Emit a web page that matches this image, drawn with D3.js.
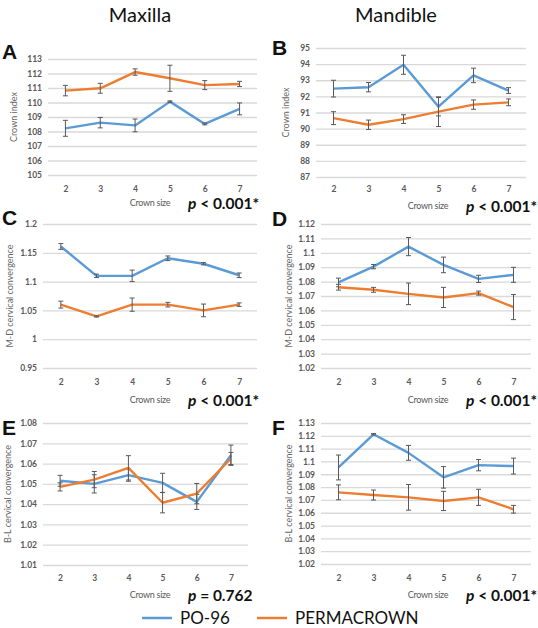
<!DOCTYPE html>
<html>
<head>
<meta charset="utf-8">
<script src="https://cdn.jsdelivr.net/npm/d3@7"></script>
<style>
  body { margin: 0; background: #fff; }
  svg { display: block; font-family: Lato, "Open Sans", sans-serif; }
</style>
</head>
<body>
<div id="chart"></div>
<script>
// crown sizes on the x axis
var crownSizes = [2, 3, 4, 5, 6, 7];
var seriesNames = ["PO-96", "PERMACROWN"];

// A - maxilla crown index
var maxIndexPO = [108.22, 108.61, 108.42, 110.06, 108.52, 109.56];
var maxIndexPOErr = [0.55, 0.36, 0.44, 0.05, 0.06, 0.41];
var maxIndexPerma = [110.82, 110.98, 112.1, 111.67, 111.2, 111.28];
var maxIndexPermaErr = [0.36, 0.34, 0.22, 0.9, 0.31, 0.18];
var maxIndexTicks = [105, 106, 107, 108, 109, 110, 111, 112, 113];

// B - mandible crown index
var manIndexPO = [92.48, 92.57, 93.96, 91.36, 93.3, 92.36];
var manIndexPOErr = [0.52, 0.29, 0.59, 0.57, 0.45, 0.18];
var manIndexPerma = [90.65, 90.24, 90.59, 91.05, 91.49, 91.63];
var manIndexPermaErr = [0.4, 0.29, 0.27, 0.92, 0.29, 0.21];
var manIndexTicks = [87, 88, 89, 90, 91, 92, 93, 94, 95];

// C - maxilla M-D cervical convergence
var maxMdPO = [1.161, 1.110, 1.110, 1.1405, 1.131, 1.111];
var maxMdPOErr = [0.005, 0.003, 0.01, 0.004, 0.002, 0.004];
var maxMdPerma = [1.06, 1.0395, 1.06, 1.06, 1.05, 1.06];
var maxMdPermaErr = [0.006, 0.001, 0.0115, 0.004, 0.011, 0.003];
var maxMdTicks = [0.95, 1, 1.05, 1.1, 1.15, 1.2];

// D - mandible M-D cervical convergence
var manMdPO = [1.0794, 1.0904, 1.1043, 1.0916, 1.0819, 1.0847];
var manMdPOErr = [0.003, 0.0015, 0.0063, 0.0054, 0.0025, 0.0052];
var manMdPerma = [1.0761, 1.0743, 1.0715, 1.069, 1.072, 1.0623];
var manMdPermaErr = [0.002, 0.0017, 0.0075, 0.007, 0.0014, 0.0087];
var manMdTicks = [1.02, 1.03, 1.04, 1.05, 1.06, 1.07, 1.08, 1.09, 1.1, 1.11, 1.12];

// E - maxilla B-L cervical convergence
var maxBlPO = [1.0515, 1.05, 1.0543, 1.0505, 1.0411, 1.0641];
var maxBlPOErr = [0.0027, 0.0045, 0.003, 0.0047, 0.0037, 0.005];
var maxBlPerma = [1.0485, 1.0521, 1.0579, 1.0407, 1.0452, 1.0625];
var maxBlPermaErr = [0.002, 0.004, 0.006, 0.005, 0.005, 0.003];
var maxBlTicks = [1.01, 1.02, 1.03, 1.04, 1.05, 1.06, 1.07, 1.08];

// F - mandible B-L cervical convergence
var manBlPO = [1.0953, 1.1212, 1.1067, 1.0876, 1.0971, 1.0964];
var manBlPOErr = [0.0097, 0.0005, 0.0058, 0.0084, 0.0044, 0.0062];
var manBlPerma = [1.0759, 1.0738, 1.072, 1.0692, 1.072, 1.0627];
var manBlPermaErr = [0.0058, 0.0039, 0.01, 0.0075, 0.0063, 0.003];
var manBlTicks = [1.02, 1.03, 1.04, 1.05, 1.06, 1.07, 1.08, 1.09, 1.1, 1.11, 1.12, 1.13];

var pValues = ["< 0.001*", "< 0.001*", "< 0.001*", "< 0.001*", "= 0.762", "< 0.001*"];

var colors = ["#5b9bd5", "#ed7d31"];

var width = 538, height = 628;

var svg = d3.select("#chart")
  .append("svg")
    .attr("width", width)
    .attr("height", height);

// column headers
svg.append("text").attr("x", 140).attr("y", 22).attr("text-anchor", "middle")
  .style("font-size", "20px").style("fill", "#111").text("Maxilla");
svg.append("text").attr("x", 396).attr("y", 22).attr("text-anchor", "middle")
  .style("font-size", "20px").style("fill", "#111").text("Mandible");

// panel layout: grid box, letter, axis title
var panels = [
  {letter: "A", title: "Crown index", po: maxIndexPO, poErr: maxIndexPOErr, pe: maxIndexPerma, peErr: maxIndexPermaErr,
   ticks: maxIndexTicks, x0: 48, x1: 257, top: 59, bottom: 175, lx: 2, ly: 59, tx: 17, tickY: 192, capY: 203, p: 0},
  {letter: "B", title: "Crown index", po: manIndexPO, poErr: manIndexPOErr, pe: manIndexPerma, peErr: manIndexPermaErr,
   ticks: manIndexTicks, x0: 316, x1: 526, top: 48, bottom: 177, lx: 272, ly: 55, tx: 289, tickY: 192, capY: 206, p: 1},
  {letter: "C", title: "M-D cervical convergence", po: maxMdPO, poErr: maxMdPOErr, pe: maxMdPerma, peErr: maxMdPermaErr,
   ticks: maxMdTicks, x0: 43, x1: 257, top: 224, bottom: 368, lx: 2, ly: 225, tx: 13, tickY: 385, capY: 400, p: 2},
  {letter: "D", title: "M-D cervical convergence", po: manMdPO, poErr: manMdPOErr, pe: manMdPerma, peErr: manMdPermaErr,
   ticks: manMdTicks, x0: 321, x1: 531, top: 224, bottom: 368, lx: 272, ly: 226, tx: 292, tickY: 385, capY: 400, p: 3},
  {letter: "E", title: "B-L cervical convergence", po: maxBlPO, poErr: maxBlPOErr, pe: maxBlPerma, peErr: maxBlPermaErr,
   ticks: maxBlTicks, x0: 43, x1: 248, top: 423, bottom: 565, lx: 2, ly: 435, tx: 11, tickY: 581, capY: 595, p: 4},
  {letter: "F", title: "B-L cervical convergence", po: manBlPO, poErr: manBlPOErr, pe: manBlPerma, peErr: manBlPermaErr,
   ticks: manBlTicks, x0: 321, x1: 531, top: 423, bottom: 564, lx: 272, ly: 435, tx: 292, tickY: 581, capY: 595, p: 5}
];

panels.forEach(function(p) {
  var g = svg.append("g");

  var x = d3.scalePoint()
    .domain(crownSizes)
    .range([p.x0, p.x1])
    .padding(0.5);

  var y = d3.scaleLinear()
    .domain([p.ticks[0], p.ticks[p.ticks.length - 1]])
    .range([p.bottom, p.top]);

  // gridlines + y labels
  g.append("g")
    .attr("transform", "translate(" + p.x0 + ",0)")
    .call(d3.axisLeft(y).tickValues(p.ticks).tickSize(-(p.x1 - p.x0)).tickPadding(6)
      .tickFormat(function(d) { return String(d); }))
    .call(function(a) {
      a.select(".domain").remove();
      a.selectAll("line").style("stroke", "#d9d9d9").style("stroke-width", 1.3);
      a.selectAll("text").style("font-size", "8.5px").style("font-weight", "bold")
        .style("fill", "#595959").style("font-family", "Lato, sans-serif");
    });

  // x labels
  g.append("g")
    .attr("transform", "translate(0," + (p.tickY - 9) + ")")
    .call(d3.axisBottom(x).tickSize(0).tickPadding(3))
    .call(function(a) {
      a.select(".domain").remove();
      a.selectAll("text").style("font-size", "8.5px").style("font-weight", "bold")
        .style("fill", "#595959").style("font-family", "Lato, sans-serif");
    });

  // panel letter
  g.append("text").attr("x", p.lx).attr("y", p.ly)
    .style("font-size", "21px").style("font-weight", "bold").style("fill", "#111")
    .style("font-family", "Liberation Sans, Arial, sans-serif")
    .text(p.letter);

  // y title
  g.append("text")
    .attr("transform", "translate(" + p.tx + "," + ((p.top + p.bottom) / 2) + ") rotate(-90)")
    .attr("text-anchor", "middle")
    .style("font-size", "9px").style("fill", "#666")
    .text(p.title);

  // x title and p value
  var xc = p.x0 < 200 ? 150 : 428;
  g.append("text").attr("x", xc).attr("y", p.capY + 3).attr("text-anchor", "middle")
    .style("font-size", "9px").style("fill", "#595959").style("letter-spacing", "-0.3px")
    .text("Crown size");
  var pt = g.append("text").attr("x", xc + 38).attr("y", p.capY + 6)
    .style("font-size", "15.5px").style("font-weight", "bold").style("fill", "#111")
    .style("font-family", "Lato, sans-serif");
  pt.append("tspan").style("font-style", "italic").text("p");
  pt.append("tspan").text(" " + pValues[p.p]);

  var line = d3.line()
    .x(function(d, i) { return x(crownSizes[i]); })
    .y(function(d) { return y(d); });

  [[p.po, p.poErr], [p.pe, p.peErr]].forEach(function(s, k) {
    g.append("path")
      .datum(s[0])
      .attr("d", line)
      .style("fill", "none")
      .style("stroke", colors[k])
      .style("stroke-width", 2.4)
      .style("stroke-linejoin", "round");

    var eb = g.append("g").selectAll("g")
      .data(s[0])
      .enter().append("g")
      .style("stroke", "#595959").style("stroke-width", 1);
    eb.append("line")
      .attr("x1", function(d, i) { return x(crownSizes[i]); })
      .attr("x2", function(d, i) { return x(crownSizes[i]); })
      .attr("y1", function(d, i) { return y(d - s[1][i]); })
      .attr("y2", function(d, i) { return y(d + s[1][i]); });
    [-1, 1].forEach(function(sign) {
      eb.append("line")
        .attr("x1", function(d, i) { return x(crownSizes[i]) - 2.5; })
        .attr("x2", function(d, i) { return x(crownSizes[i]) + 2.5; })
        .attr("y1", function(d, i) { return y(d + sign * s[1][i]); })
        .attr("y2", function(d, i) { return y(d + sign * s[1][i]); });
    });
  });
});

// legend
var legend = svg.append("g").attr("transform", "translate(0,618)");
var legendX = [142, 257];
seriesNames.forEach(function(name, i) {
  legend.append("line")
    .attr("x1", legendX[i]).attr("x2", legendX[i] + 30)
    .attr("y1", 0).attr("y2", 0)
    .style("stroke", colors[i]).style("stroke-width", 2.5);
  legend.append("text")
    .attr("x", legendX[i] + 38).attr("y", 6)
    .style("font-size", "17px").style("fill", "#111")
    .text(name);
});
</script>
</body>
</html>
